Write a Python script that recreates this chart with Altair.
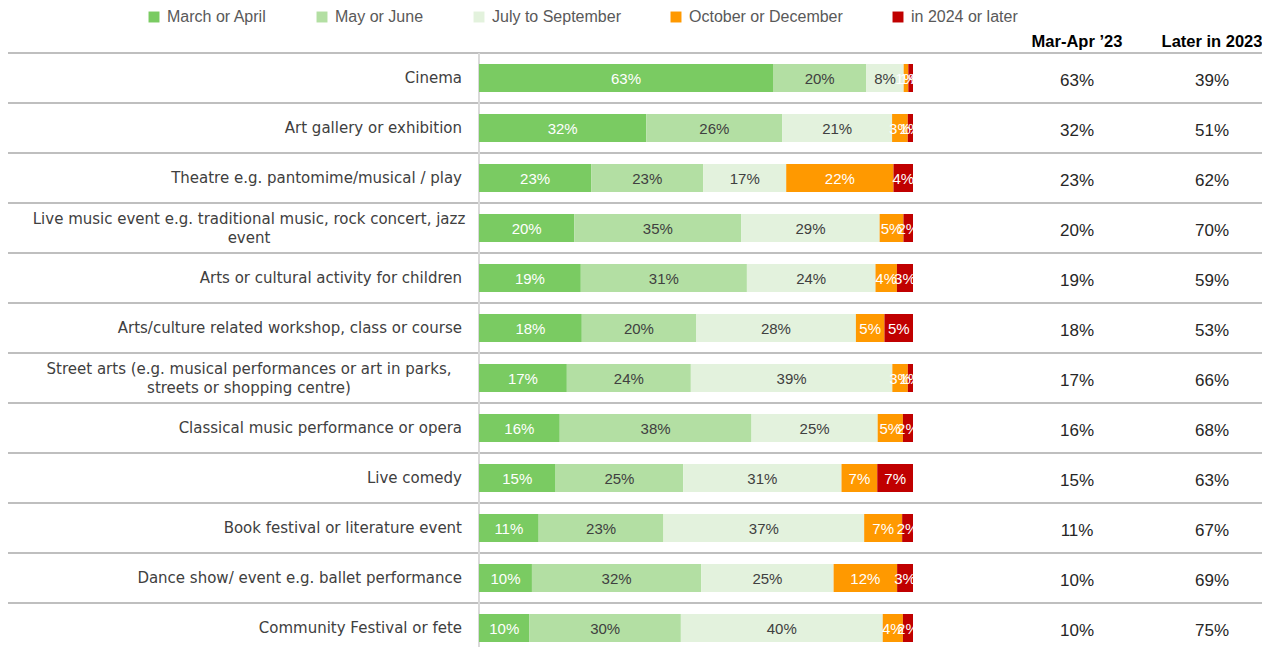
import altair as alt
import pandas as pd

categories = [
    "Cinema",
    "Art gallery or exhibition",
    "Theatre e.g. pantomime/musical / play",
    "Live music event e.g. traditional music, rock concert, jazz\nevent",
    "Arts or cultural activity for children",
    "Arts/culture related workshop, class or course",
    "Street arts (e.g. musical performances or art in parks,\nstreets or shopping centre)",
    "Classical music performance or opera",
    "Live comedy",
    "Book festival or literature event",
    "Dance show/ event e.g. ballet performance",
    "Community Festival or fete",
]
series = ["March or April", "May or June", "July to September", "October or December", "in 2024 or later"]
colors = ["#7ACB62", "#B3DFA3", "#E3F2DD", "#FF9900", "#C00000"]

march_april = [63, 32, 23, 20, 19, 18, 17, 16, 15, 11, 10, 10]
may_june = [20, 26, 23, 35, 31, 20, 24, 38, 25, 23, 32, 30]
july_sept = [8, 21, 17, 29, 24, 28, 39, 25, 31, 37, 25, 40]
oct_dec = [1, 3, 22, 5, 4, 5, 3, 5, 7, 7, 12, 4]
in_2024 = [1, 1, 4, 2, 3, 5, 1, 2, 7, 2, 3, 2]

col_mar_apr = [63, 32, 23, 20, 19, 18, 17, 16, 15, 11, 10, 10]
col_later_2023 = [39, 51, 62, 70, 59, 53, 66, 68, 63, 67, 69, 75]
headers = ["Mar-Apr \u201923", "Later in 2023"]

FONT = "Liberation Sans"
NAME_FONT = "DejaVu Sans"
keys = [f"c{i:02d}" for i in range(len(categories))]

rows = []
for s_i, (s, vals) in enumerate(zip(series, [march_april, may_june, july_sept, oct_dec, in_2024])):
    for k, v in zip(keys, vals):
        rows.append({"key": k, "series": s, "value": v, "order": s_i, "label": f"{v}%"})
df = pd.DataFrame(rows)

cat_df = pd.DataFrame({
    "key": keys,
    "name": categories,
    "multi": ["\n" in c for c in categories],
    "c1": [f"{v}%" for v in col_mar_apr],
    "c2": [f"{v}%" for v in col_later_2023],
})
hdr_df = pd.DataFrame({"h": headers, "px": [1069, 1204]})

yscale = alt.Scale(range=[0, 600], paddingInner=0, paddingOuter=0)
yenc = alt.Y("key:N", sort=keys, axis=None, scale=yscale)
xscale = alt.Scale(domain=[-471 / 434, (1254 - 471) / 434], nice=False, zero=False)

base = alt.Chart(df).transform_stack(
    stack="value", groupby=["key"], as_=["v0", "v1"], offset="normalize",
    sort=[alt.SortField("order", order="ascending")]
).transform_calculate(mid="(datum.v0 + datum.v1) / 2")

bars = base.mark_bar(size=28).encode(
    y=yenc,
    x=alt.X("v0:Q", scale=xscale, axis=None),
    x2="v1:Q",
    color=alt.Color("series:N", sort=series,
                    scale=alt.Scale(domain=series, range=colors),
                    legend=alt.Legend(orient="none", direction="horizontal",
                                      legendX=138, legendY=-44, title=None,
                                      symbolType="square", symbolSize=120,
                                      symbolStrokeWidth=0, labelFontSize=16,
                                      labelColor="#595959", labelFont=FONT,
                                      labelLimit=400,
                                      columnPadding=47, labelOffset=5, padding=0)),
)

labels = base.mark_text(fontSize=15, font=FONT, baseline="middle", align="center", dy=1).encode(
    y=yenc,
    x=alt.X("mid:Q", scale=xscale, axis=None),
    text="label:N",
    color=alt.condition(
        "datum.series == 'March or April' || datum.series == 'October or December' || datum.series == 'in 2024 or later'",
        alt.value("#FFFFFF"), alt.value("#404040")),
)

seps = alt.Chart(cat_df).mark_rule(color="#BFBFBF", strokeWidth=2).encode(
    y=alt.Y("key:N", sort=keys, axis=None, bandPosition=0, scale=yscale),
    x=alt.value(0), x2=alt.value(1262),
)

vline = alt.Chart(cat_df).mark_rule(color="#D9D9D9", strokeWidth=1).encode(
    x=alt.value(471), y=alt.value(0), y2=alt.value(600),
)

name_style = dict(baseline="middle", fontSize=15, font=NAME_FONT,
                  color="#404040", lineBreak="\n", lineHeight=19)
names1 = alt.Chart(cat_df).transform_filter("!datum.multi").mark_text(align="right", **name_style).encode(
    y=yenc, x=alt.value(454), text="name:N",
)
names2 = alt.Chart(cat_df).transform_filter("datum.multi").mark_text(align="center", dy=-9, **name_style).encode(
    y=yenc, x=alt.value(241), text="name:N",
)

col_style = dict(align="center", baseline="middle", fontSize=17, font=FONT,
                 color="#262626", dy=3)
col1 = alt.Chart(cat_df).mark_text(**col_style).encode(
    y=yenc, x=alt.value(1069), text="c1:N",
)
col2 = alt.Chart(cat_df).mark_text(**col_style).encode(
    y=yenc, x=alt.value(1204), text="c2:N",
)
hdrs = alt.Chart(hdr_df).mark_text(align="center", baseline="middle", fontSize=16.5,
                                   font=FONT, fontWeight="bold", color="#000000").encode(
    x=alt.X("px:Q", scale=None), y=alt.value(-11), text="h:N",
)

chart = alt.layer(seps, vline, bars, labels, names1, names2, col1, col2, hdrs).properties(
    width=1254, height=594, autosize="none", background="white",
    padding={"left": 0, "top": 45, "right": 0, "bottom": 0},
).configure_view(strokeWidth=0, stroke="transparent")

chart.save("out.html", embed_options={"renderer": "svg", "actions": False})
